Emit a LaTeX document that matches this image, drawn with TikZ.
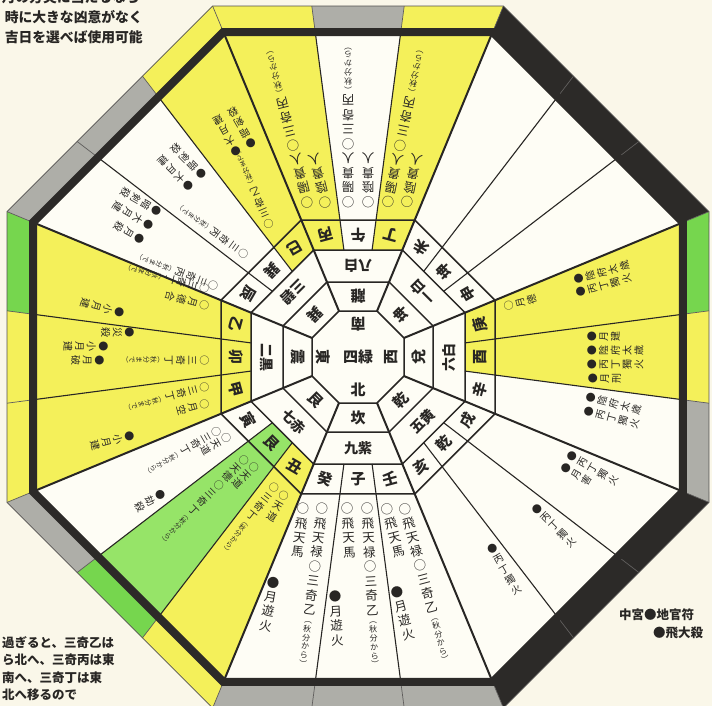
\documentclass[tikz,border=0pt]{standalone}
\usepackage{fontspec}
\newfontfamily\jp{Noto Sans CJK JP}
\usetikzlibrary{calc}
\definecolor{bgc}{RGB}{250,247,233}
\definecolor{wc}{RGB}{254,253,245}
\definecolor{yc}{RGB}{244,240,90}
\definecolor{gc}{RGB}{118,214,78}
\definecolor{gs}{RGB}{150,228,104}
\definecolor{grc}{RGB}{174,174,168}
\definecolor{bk}{RGB}{44,42,40}
\definecolor{ln}{RGB}{40,38,36}

\makeatletter
\newdimen\V@w
\def\V@end{\V@end@}
\def\SM{\SM@}
\def\Vp{12pt}
\def\Vsm{\scriptsize}
\newcommand\V[1]{\vbox{\V@w=1.1em\baselineskip=\Vp\relax\lineskip=0pt\lineskiplimit=-50pt\V@a#1\V@end}}
\def\V@a#1{\ifx\V@end#1\let\V@next\relax\else\ifx\SM#1\Vsm\else\hbox to\V@w{\hss#1\hss}\fi\let\V@next\V@a\fi\V@next}
\makeatother

\newcount\tcn
\newcommand\tc[5][tsm]{\global\advance\tcn by 1\relax
  \node[#1,rotate={180-(#2)}] (tc\the\tcn) at ($(#3,#4)+({(#2)-90}:-6)$) {\V{#5}};}

\newcommand\octfill[2]{\fill[#1] (-67.5:{1.082392*#2}) -- (-22.5:{1.082392*#2}) -- (22.5:{1.082392*#2}) -- (67.5:{1.082392*#2}) -- (112.5:{1.082392*#2}) -- (157.5:{1.082392*#2}) -- (202.5:{1.082392*#2}) -- (247.5:{1.082392*#2}) -- cycle;}
\newcommand\octdraw[2]{\draw[#1] (-67.5:{1.082392*#2}) -- (-22.5:{1.082392*#2}) -- (22.5:{1.082392*#2}) -- (67.5:{1.082392*#2}) -- (112.5:{1.082392*#2}) -- (157.5:{1.082392*#2}) -- (202.5:{1.082392*#2}) -- (247.5:{1.082392*#2}) -- cycle;}
\newcommand\sect[5]{\pgfmathsetmacro\sda{(#2)-45*round((#2)/45)}\pgfmathsetmacro\sdb{(#3)-45*round((#3)/45)}%
  \fill[#1] ({(#2)-90}:{(#4)/cos(\sda)}) -- ({(#2)-90}:{(#5)/cos(\sda)}) -- ({(#3)-90}:{(#5)/cos(\sdb)}) -- ({(#3)-90}:{(#4)/cos(\sdb)}) -- cycle;}

\tikzset{
 ringln/.style={draw=ln,line width=1.5pt,line join=miter},
 cornln/.style={draw=ln,line width=2pt},
 mtnln/.style={draw=ln,line width=1.1pt},
 bsep/.style={draw=ln!75,line width=0.7pt},
 rlab/.style={text=ln,inner sep=0pt,font=\jp\bfseries\fontsize{15}{16}\selectfont},
 rlab3/.style={text=ln,inner sep=0pt,font=\jp\bfseries\fontsize{14}{15}\selectfont},
 tbg/.style={text=ln,inner sep=0pt,anchor=north,font={\jp\fontsize{12.5}{14}\selectfont\def\Vp{14.5pt}\def\Vsm{\fontsize{8}{9}\selectfont\baselineskip=8.8pt\relax}}},
 tsm/.style={text=ln,inner sep=0pt,anchor=north,font={\jp\fontsize{10}{12}\selectfont\def\Vp{11.8pt}\def\Vsm{\fontsize{6.8}{7}\selectfont\baselineskip=7.1pt\relax}}},
 captxt/.style={text=ln,inner sep=0pt,font=\jp\bfseries\fontsize{13.8}{15}\selectfont},
 captxtb/.style={text=ln,inner sep=0pt,font=\jp\bfseries\fontsize{12.5}{14}\selectfont},
}

\begin{document}
\begin{tikzpicture}[x=1pt,y=-1pt]
\useasboundingbox (0,0) rectangle (712,706);
\fill[bgc] (0,0) rectangle (712,706);
\begin{scope}[shift={(358,357)}]
 % band
 \foreach \cc/\col in {-15/yc,0/grc,15/yc,30/bk,45/bk,60/bk,75/gc,90/yc,105/grc,120/bk,135/bk,150/bk,165/grc,180/grc,195/grc,210/yc,225/gc,240/grc,255/yc,270/yc,285/gc,300/grc,315/grc,330/yc}{\sect{\col}{\cc-7.5}{\cc+7.5}{322}{351}}
 \octfill{wc}{322}
 % coloured sectors
 \foreach \cc/\col in {-15/yc,15/yc,75/yc,90/yc,210/yc,225/gs,255/yc,270/yc,285/yc,330/yc}{\sect{\col}{\cc-7.5}{\cc+7.5}{107}{322}}
 % band separators
 \foreach \k in {0,...,23}{\pgfmathsetmacro\th{7.5+15*\k}\pgfmathsetmacro\dv{\th-45*round(\th/45)}%
   \draw[bsep] ({\th-90}:{329/cos(\dv)}) -- ({\th-90}:{351/cos(\dv)});}
 \octdraw{draw=ln!80,line width=0.8pt}{351}
 % rings
 \foreach \a in {46,75,107,137}{\octdraw{ringln}{\a}}
 \foreach \k in {0,...,7}{\draw[cornln] ({-67.5+45*\k}:{1.082392*46}) -- ({-67.5+45*\k}:{1.082392*322});}
 \foreach \k in {0,...,7}{\foreach \o in {-7.5,7.5}{\draw[mtnln] ({45*\k+\o-90}:{1.008629*107}) -- ({45*\k+\o-90}:{1.008629*322});}}
 \octdraw{draw=bk,line width=8pt,line join=miter}{325}
 % centre
 \node[rlab,rotate=180] (cS) at (-90:33) {南};
 \node[rlab] (cN) at (90:33) {北};
 \node[rlab,rotate=-90] (cE) at (180:35) {東};
 \node[rlab,rotate=90] (cW) at (0:33) {西};
 \node[rlab] (cC) at (0,0) {四緑};
 % trigrams
 \foreach \t/\s in {0/離,45/坤,90/兌,135/乾,180/坎,225/艮,270/震,315/巽}{\node[rlab,rotate=180-\t] (tg\t) at ({\t-90}:60.5) {\s};}
 % stars
 \foreach \t/\s in {0/八白,45/一白,90/六白,135/五黄,180/九紫,225/七赤,270/二黒,315/三碧}{\node[rlab3,rotate=180-\t] (st\t) at ({\t-90}:91) {\s};}
 % mountains
 \foreach \t/\s in {0/午,15/丁,30/未,45/坤,60/申,75/庚,90/酉,105/辛,120/戌,135/乾,150/亥,165/壬,180/子,195/癸,210/丑,225/艮,240/寅,255/甲,270/卯,285/乙,300/辰,315/巽,330/巳,345/丙}{%
   \pgfmathsetmacro\dv{\t-45*round(\t/45)}%
   \node[rlab,rotate=180-\t] (mt\t) at ({\t-90}:{122/cos(\dv)}) {\s};}
\end{scope}

% top sectors
\tc[tbg]{346}{307}{202}{○陽貴人○三奇丙\SM︵秋分から︶}
\tc[tbg]{346}{325}{202}{○陰貴人}
\tc[tbg]{0}{348}{202}{○陽貴人○三奇丙\SM︵秋分から︶}
\tc[tbg]{0}{368}{202}{○陰貴人}
\tc[tbg]{12}{388}{202}{○陽貴人○三奇丙\SM︵秋分から︶}
\tc[tbg]{12}{407}{202}{○陰貴人}
% right sectors
\tc{75}{510}{305}{○月德}
\tc{75}{580}{278}{●陰府太歳}
\tc{75}{582}{291}{●丙丁獨火}
\tc{90}{593}{336}{●月建}
\tc{90}{593}{350}{●陰府太歳}
\tc{90}{593}{364}{●丙丁獨火}
\tc{90}{594}{378}{●月刑}
\tc{105}{592}{398}{●陰府太歳}
\tc{105}{590}{412}{●丙丁獨火}
\tc{120}{573}{457}{●丙丁獨火}
\tc{120}{567}{469}{●月害}
\tc{135}{538}{510}{●丙丁獨火}
\tc{150}{493}{550}{●丙丁獨火}
% bottom sectors
\tc[tbg]{165}{405}{509}{○飛天禄○三奇乙\SM︵秋分から︶}
\tc[tbg]{165}{387}{509}{○飛天馬}
\tc[tbg]{165}{397}{592}{●月遊火}
\tc[tbg]{177}{367}{509}{○飛天禄○三奇乙\SM︵秋分から︶}
\tc[tbg]{177}{347}{509}{○飛天馬}
\tc[tbg]{177}{335}{597}{●月遊火}
\tc[tbg]{187}{322}{509}{○飛天禄○三奇乙\SM︵秋分から︶}
\tc[tbg]{187}{303}{509}{○飛天馬}
\tc[tbg]{190}{273}{583}{●月遊火}
% lower-left sectors
\tc{210}{283}{497}{○天道}
\tc{218}{273}{489}{○三奇丁\SM︵秋分から︶}
\tc{225}{253}{468}{○天道}
\tc{225}{243}{461}{○天德○三奇丁\SM︵秋分から︶}
\tc{240}{225}{439}{○天道}
\tc{240}{215}{433}{○三奇丁\SM︵秋分から︶}
\tc{240}{159}{496}{●劫殺}
% left sectors
\tc{255}{203}{405}{○月空}
\tc{255}{203}{388}{○三奇丁\SM︵秋分まで︶}
\tc{255}{128}{437}{●小月建}
\tc{270}{203}{360}{○三奇丁\SM︵秋分まで︶}
\tc{270}{128}{332}{●災殺}
\tc{270}{102}{346}{●小月建}
\tc{270}{98}{360}{●月破}
\tc{285}{203}{305}{○月德合}
\tc{285}{203}{288}{○三奇丁\SM︵秋分まで︶}
\tc{285}{118}{312}{●小月建}
% upper-left sectors
\tc{291}{212}{285}{○三奇丙\SM︵秋分まで︶}
\tc{300}{155}{210}{●暗剣殺}
\tc{300}{147}{224}{●大月建}
\tc{300}{138}{238}{●月殺}
\tc{306}{243}{253}{○三奇丙\SM︵秋分まで︶}
\tc{315}{200}{173}{●暗剣殺}
\tc{315}{187}{185}{●大月建}
\tc{337}{268}{223}{○三奇乙\SM︵秋分まで︶}
\tc{330}{250}{142}{●暗剣殺}
\tc{330}{235}{150}{●大月建}

% captions
\node[captxt,anchor=east] (capA) at (140,-3) {月の方災に当たるなら};
\node[captxt,anchor=east] (capB) at (143,17) {時に大きな凶意がなく};
\node[captxt,anchor=east] (capC) at (143,37) {吉日を選べば使用可能};
\node[captxtb,anchor=west] (capD) at (2,643) {過ぎると、三奇乙は};
\node[captxtb,anchor=west] (capE) at (2,660) {ら北へ、三奇丙は東};
\node[captxtb,anchor=west] (capF) at (2,678) {南へ、三奇丁は東};
\node[captxtb,anchor=west] (capG) at (2,695) {北へ移るので};
\node[captxtb,anchor=west] (lgA) at (619,615) {中宮●地官符};
\node[captxtb,anchor=west] (lgB) at (653,633) {●飛大殺};
\end{tikzpicture}
\end{document}
